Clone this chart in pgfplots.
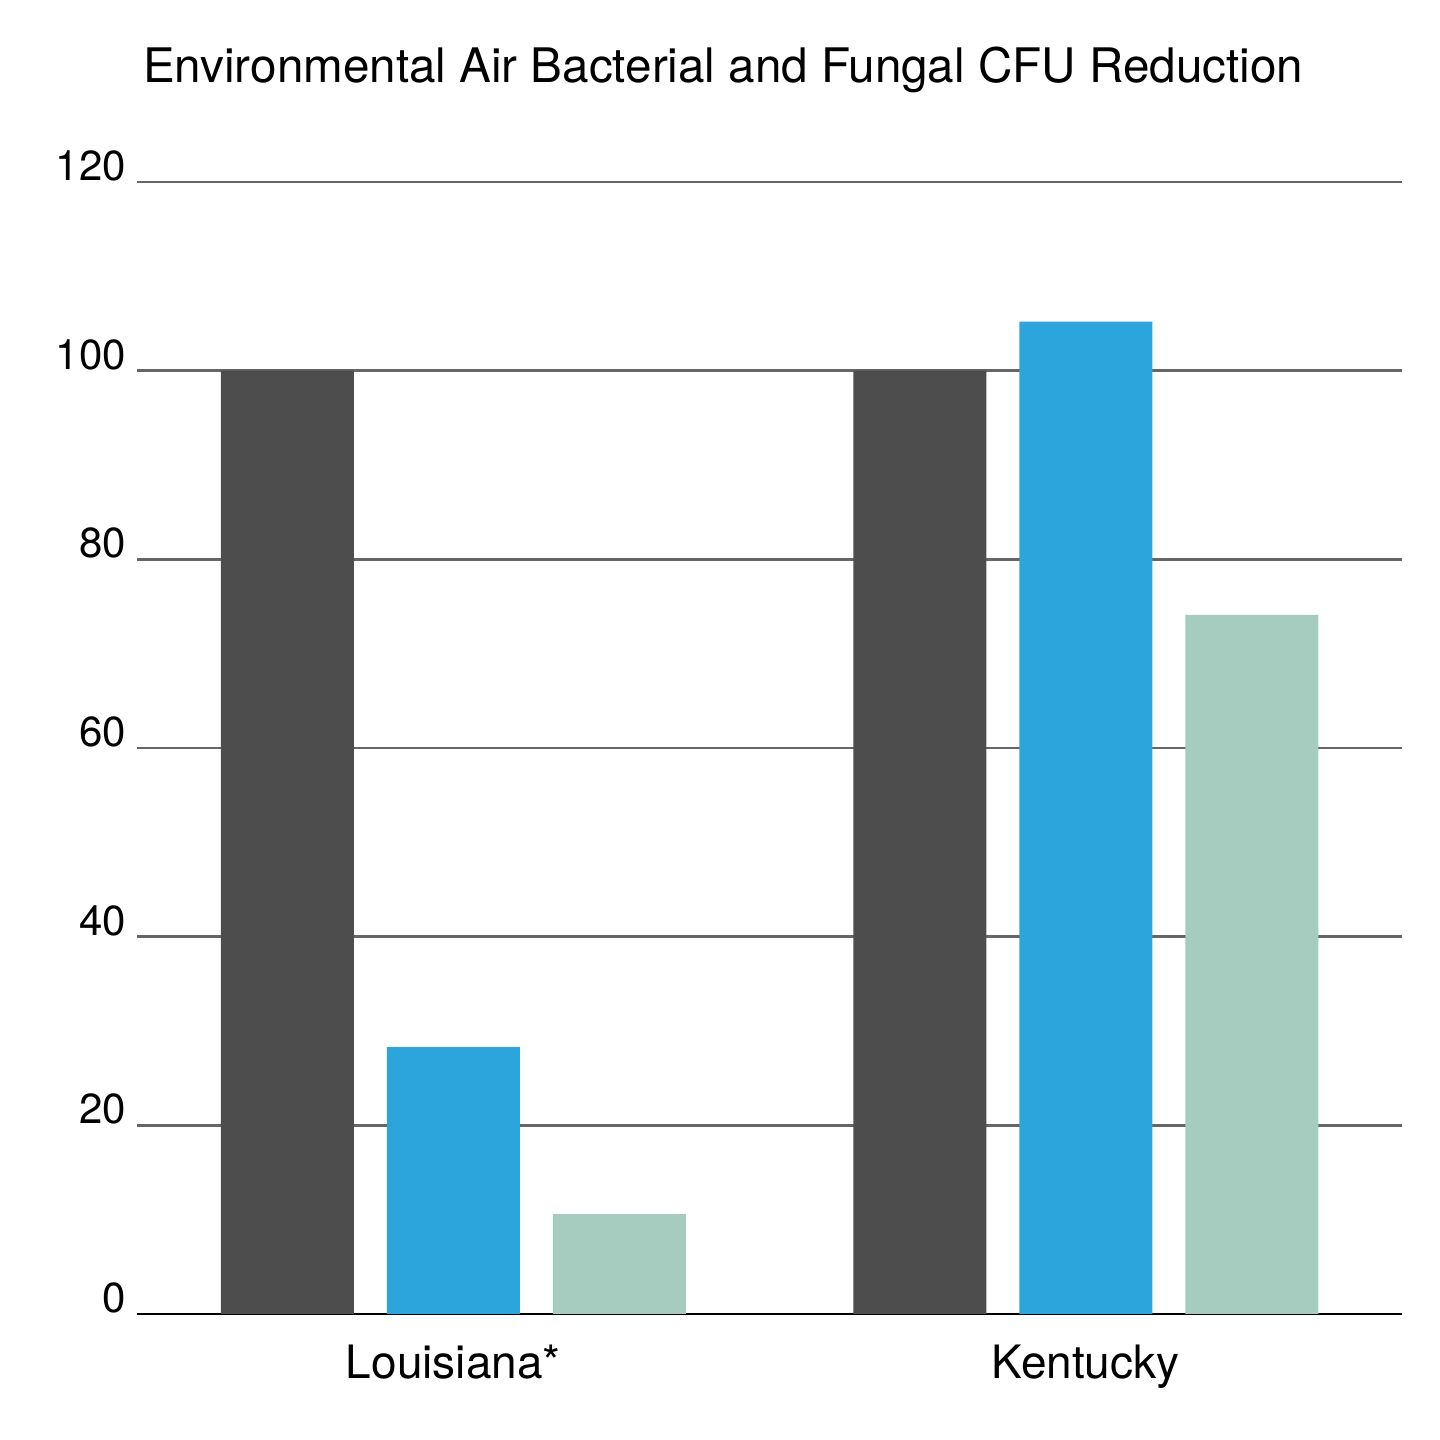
\documentclass[border=0pt]{standalone}
\usepackage{pgfplots}
\pgfplotsset{compat=1.18}
\usepackage{fontspec}
\setmainfont{TeX Gyre Heros}
\definecolor{cdark}{HTML}{4D4D4D}
\definecolor{cblue}{HTML}{2CA5DC}
\definecolor{cgreen}{HTML}{A6CCBF}
\begin{document}
\begin{tikzpicture}
\useasboundingbox (0,0) rectangle (720pt,720pt);
\begin{axis}[at={(68.5pt,63pt)}, anchor=south west,
  scale only axis, width=632.5pt, height=566pt,
  xmin=-0.5, xmax=1.5, ymin=0, ymax=120,
  axis line style={draw=none}, ymajorgrids, grid style={draw=black!60, line width=1.2pt},
  ytick={0,20,...,120}, xtick={0,1}, xticklabels={Louisiana*, Kentucky},
  major tick length=0pt,
  yticklabel style={font=\fontsize{21}{25}\selectfont, yshift=8pt, xshift=-2pt},
  xticklabel style={font=\fontsize{23}{27}\selectfont, yshift=-12pt},
  /pgf/number format/assume math mode=true,
  ybar, bar width=66.5pt,
  clip=false,
]
\draw[black, line width=1.2pt] (axis cs:-0.5,0) -- (axis cs:1.5,0);
\addplot[fill=cdark, draw=none, bar shift=-83pt] coordinates {(0,100) (1,100)};
\addplot[fill=cblue, draw=none, bar shift=0pt] coordinates {(0,28.3) (1,105.2)};
\addplot[fill=cgreen, draw=none, bar shift=83pt] coordinates {(0,10.6) (1,74.1)};
\end{axis}
\node[anchor=west, font=\fontsize{23.8}{28}\selectfont] at (68pt,685pt) {Environmental Air Bacterial and Fungal CFU Reduction};
\end{tikzpicture}
\end{document}
